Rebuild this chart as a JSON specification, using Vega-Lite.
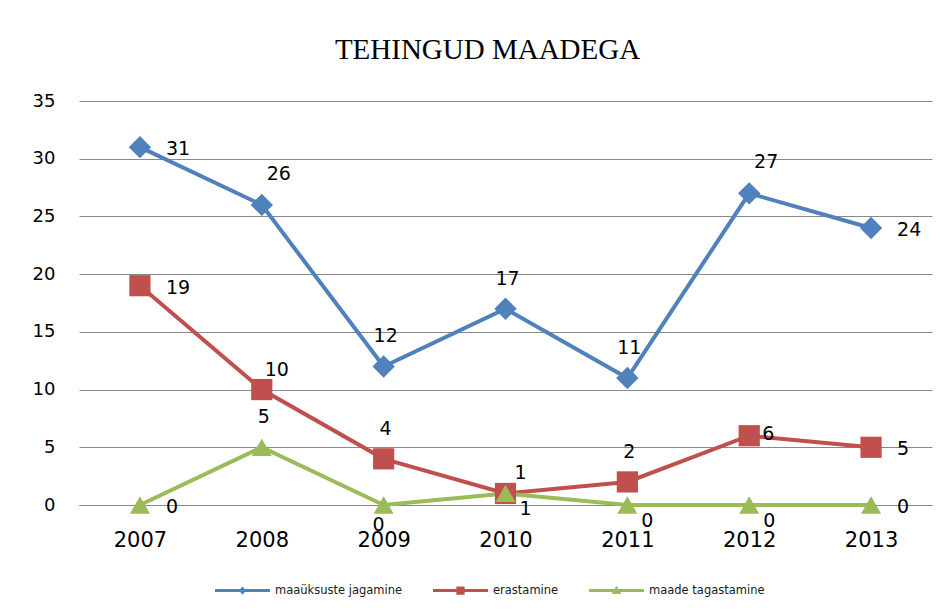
{
  "$schema": "https://vega.github.io/schema/vega-lite/v6.json",
  "autosize": "none",
  "width": 853,
  "height": 404,
  "padding": {"left": 79, "top": 101, "right": 20, "bottom": 110},
  "background": "white",
  "title": {"text": "TEHINGUD MAADEGA", "font": "Liberation Serif", "fontSize": 29, "fontWeight": "normal", "color": "#000000", "anchor": "middle", "dx": -18, "offset": 4, "baseline": "alphabetic"},
  "data": {"values": [
    {"aasta": "2007", "seeria": "maaüksuste jagamine", "vaartus": 31},
    {"aasta": "2008", "seeria": "maaüksuste jagamine", "vaartus": 26},
    {"aasta": "2009", "seeria": "maaüksuste jagamine", "vaartus": 12},
    {"aasta": "2010", "seeria": "maaüksuste jagamine", "vaartus": 17},
    {"aasta": "2011", "seeria": "maaüksuste jagamine", "vaartus": 11},
    {"aasta": "2012", "seeria": "maaüksuste jagamine", "vaartus": 27},
    {"aasta": "2013", "seeria": "maaüksuste jagamine", "vaartus": 24},
    {"aasta": "2007", "seeria": "erastamine", "vaartus": 19},
    {"aasta": "2008", "seeria": "erastamine", "vaartus": 10},
    {"aasta": "2009", "seeria": "erastamine", "vaartus": 4},
    {"aasta": "2010", "seeria": "erastamine", "vaartus": 1},
    {"aasta": "2011", "seeria": "erastamine", "vaartus": 2},
    {"aasta": "2012", "seeria": "erastamine", "vaartus": 6},
    {"aasta": "2013", "seeria": "erastamine", "vaartus": 5},
    {"aasta": "2007", "seeria": "maade tagastamine", "vaartus": 0},
    {"aasta": "2008", "seeria": "maade tagastamine", "vaartus": 5},
    {"aasta": "2009", "seeria": "maade tagastamine", "vaartus": 0},
    {"aasta": "2010", "seeria": "maade tagastamine", "vaartus": 1},
    {"aasta": "2011", "seeria": "maade tagastamine", "vaartus": 0},
    {"aasta": "2012", "seeria": "maade tagastamine", "vaartus": 0},
    {"aasta": "2013", "seeria": "maade tagastamine", "vaartus": 0}
  ]},
  "encoding": {
    "x": {"field": "aasta", "type": "ordinal", "scale": {"type": "point", "padding": 0.5},
      "axis": {"title": null, "labelAngle": 0, "labelFont": "DejaVu Sans", "labelFontSize": 21, "labelColor": "#000000", "labelPadding": 24, "ticks": false, "domain": true, "domainColor": "#888888", "domainWidth": 1, "grid": false}},
    "y": {"field": "vaartus", "type": "quantitative", "scale": {"domain": [0, 35], "nice": false, "zero": true},
      "axis": {"title": null, "values": [0, 5, 10, 15, 20, 25, 30, 35], "labelFont": "DejaVu Sans", "labelFontSize": 18, "labelColor": "#000000", "labelPadding": 24, "ticks": false, "domain": false, "grid": true, "gridColor": "#888888", "gridWidth": 1}}
  },
  "layer": [
    {
      "mark": {"type": "line", "strokeWidth": 4},
      "encoding": {
        "color": {"field": "seeria", "type": "nominal", "scale": {"domain": ["maaüksuste jagamine", "erastamine", "maade tagastamine"], "range": ["#4F81BD", "#C0504D", "#9BBB59"]}, "legend": null}
      }
    },
    {
      "mark": {"type": "point", "filled": true, "opacity": 1},
      "encoding": {
        "color": {"field": "seeria", "type": "nominal", "scale": {"domain": ["maaüksuste jagamine", "erastamine", "maade tagastamine"], "range": ["#4F81BD", "#C0504D", "#9BBB59"]}, "legend": null},
        "shape": {"field": "seeria", "type": "nominal", "scale": {"domain": ["maaüksuste jagamine", "erastamine", "maade tagastamine"], "range": ["diamond", "square", "triangle-up"]}, "legend": null},
        "size": {"field": "seeria", "type": "nominal", "scale": {"domain": ["maaüksuste jagamine", "erastamine", "maade tagastamine"], "range": [500, 400, 560]}, "legend": null}
      }
    },
    {
      "transform": [{"filter": "false"}],
      "mark": {"type": "point", "filled": true, "opacity": 1, "size": 3025},
      "encoding": {
        "color": {"field": "seeria", "type": "nominal", "scale": {"domain": ["maaüksuste jagamine", "erastamine", "maade tagastamine"], "range": ["#4F81BD", "#C0504D", "#9BBB59"]},
          "legend": {"orient": "none", "legendX": 136, "legendY": 462, "direction": "horizontal", "title": null, "symbolSize": 3025, "labelFont": "DejaVu Sans", "labelFontSize": 11.5, "labelColor": "#1a1a1a", "columnPadding": 30, "labelOffset": 5, "symbolStrokeWidth": 0, "padding": 0}},
        "shape": {"field": "seeria", "type": "nominal", "scale": {"domain": ["maaüksuste jagamine", "erastamine", "maade tagastamine"], "range": [
          "M-1,-0.055L1,-0.055L1,0.055L-1,0.055ZM0,-0.15L0.13,0L0,0.15L-0.13,0Z",
          "M-1,-0.055L1,-0.055L1,0.055L-1,0.055ZM-0.15,-0.15L0.15,-0.15L0.15,0.15L-0.15,0.15Z",
          "M-1,-0.055L1,-0.055L1,0.055L-1,0.055ZM0,-0.17L0.18,0.13L-0.18,0.13Z"]},
          "legend": {"orient": "none", "legendX": 136, "legendY": 462, "direction": "horizontal", "title": null, "symbolSize": 3025, "labelFont": "DejaVu Sans", "labelFontSize": 11.5, "labelColor": "#1a1a1a", "columnPadding": 30, "labelOffset": 5, "symbolStrokeWidth": 0, "padding": 0}}
      }
    },
    {
      "transform": [{"filter": "indexof(['maaüksuste jagamine2007','maaüksuste jagamine2013','erastamine2007','erastamine2013','maade tagastamine2007','maade tagastamine2013'], datum.seeria + datum.aasta) >= 0"}],
      "mark": {"type": "text", "align": "left", "baseline": "middle", "dx": 26, "dy": 2, "font": "DejaVu Sans", "fontSize": 19, "color": "#000000"},
      "encoding": {"text": {"field": "vaartus", "type": "quantitative"}}
    },
    {
      "transform": [{"filter": "indexof(['maaüksuste jagamine2009','maaüksuste jagamine2010','maaüksuste jagamine2011','erastamine2009','erastamine2011','maade tagastamine2008'], datum.seeria + datum.aasta) >= 0"}],
      "mark": {"type": "text", "align": "center", "baseline": "middle", "dx": 2, "dy": -30, "font": "DejaVu Sans", "fontSize": 19, "color": "#000000"},
      "encoding": {"text": {"field": "vaartus", "type": "quantitative"}}
    },
    {
      "transform": [{"filter": "indexof(['maaüksuste jagamine2008','maaüksuste jagamine2012'], datum.seeria + datum.aasta) >= 0"}],
      "mark": {"type": "text", "align": "center", "baseline": "middle", "dx": 17, "dy": -31, "font": "DejaVu Sans", "fontSize": 19, "color": "#000000"},
      "encoding": {"text": {"field": "vaartus", "type": "quantitative"}}
    },
    {
      "transform": [{"filter": "indexof(['erastamine2008','erastamine2010'], datum.seeria + datum.aasta) >= 0"}],
      "mark": {"type": "text", "align": "center", "baseline": "middle", "dx": 15, "dy": -20, "font": "DejaVu Sans", "fontSize": 19, "color": "#000000"},
      "encoding": {"text": {"field": "vaartus", "type": "quantitative"}}
    },
    {
      "transform": [{"filter": "datum.seeria + datum.aasta == 'erastamine2012'"}],
      "mark": {"type": "text", "align": "center", "baseline": "middle", "dx": 19, "dy": -2, "font": "DejaVu Sans", "fontSize": 19, "color": "#000000"},
      "encoding": {"text": {"field": "vaartus", "type": "quantitative"}}
    },
    {
      "transform": [{"filter": "indexof(['maade tagastamine2010','maade tagastamine2011','maade tagastamine2012'], datum.seeria + datum.aasta) >= 0"}],
      "mark": {"type": "text", "align": "center", "baseline": "middle", "dx": 20, "dy": 16, "font": "DejaVu Sans", "fontSize": 19, "color": "#000000"},
      "encoding": {"text": {"field": "vaartus", "type": "quantitative"}}
    },
    {
      "transform": [{"filter": "datum.seeria + datum.aasta == 'maade tagastamine2009'"}],
      "mark": {"type": "text", "align": "center", "baseline": "middle", "dx": -5, "dy": 20, "font": "DejaVu Sans", "fontSize": 19, "color": "#000000"},
      "encoding": {"text": {"field": "vaartus", "type": "quantitative"}}
    }
  ],
  "resolve": {"scale": {"color": "independent", "shape": "independent"}},
  "config": {"view": {"stroke": null}}
}
